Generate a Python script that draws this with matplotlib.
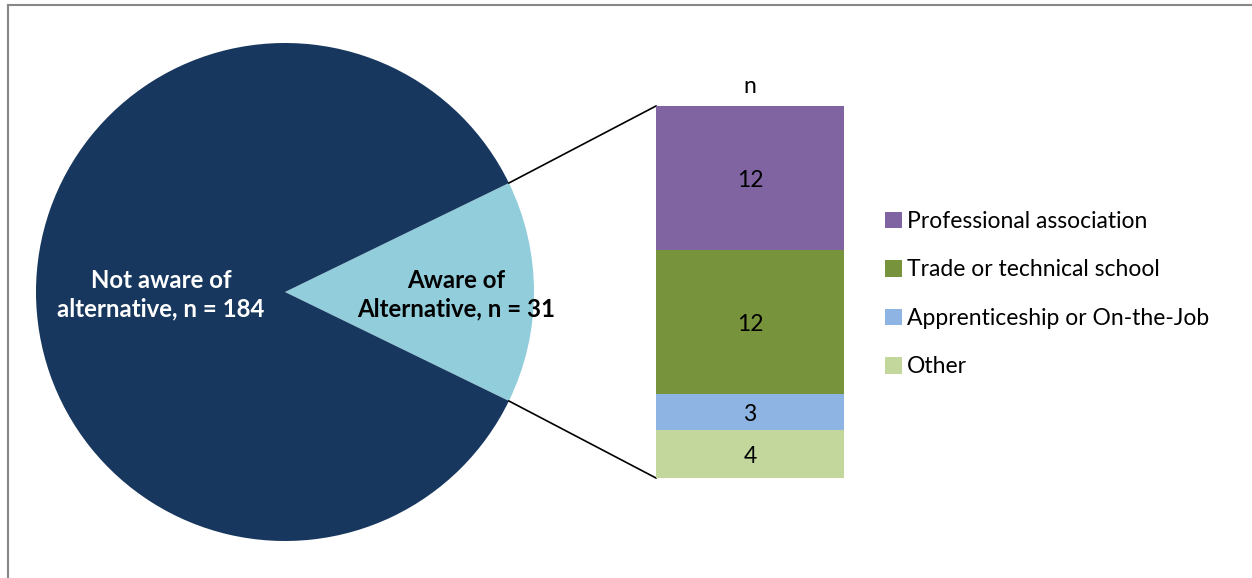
import matplotlib
matplotlib.use("Agg")
import matplotlib.pyplot as plt
import numpy as np

plt.rcParams['font.family'] = ['Lato', 'DejaVu Sans']

# Data
pie_labels = ["Aware of\nAlternative, n = 31", "Not aware of\nalternative, n = 184"]
pie_values = [31, 184]
pie_colors = ["#92CDDC", "#17375E"]

bar_categories = ["Other", "Apprenticeship or On-the-Job", "Trade or technical school", "Professional association"]
bar_values = [4, 3, 12, 12]
bar_colors = ["#C3D69B", "#8DB4E2", "#77933C", "#8064A2"]

W, H = 1252, 578
fig = plt.figure(figsize=(W / 100, H / 100), dpi=100)

# main axes in pixel coordinates
ax = fig.add_axes([0, 0, 1, 1])
ax.set_xlim(0, W)
ax.set_ylim(0, H)
ax.set_aspect('equal')
ax.axis('off')

cx, cy, r = 285, H - 292, 249
half = pie_values[0] / sum(pie_values) * 360 / 2
ax.pie(pie_values, colors=pie_colors, startangle=-half, counterclock=True,
       center=(cx, cy), radius=r, frame=True,
       wedgeprops=dict(linewidth=0))
ax.set_xlim(0, W)
ax.set_ylim(0, H)
ax.axis('off')

ax.text(456, H - 295, pie_labels[0], ha='center', va='center', fontsize=17.3,
        fontweight='bold', color='black', linespacing=1.3)
ax.text(161, H - 295, pie_labels[1], ha='center', va='center', fontsize=17.3,
        fontweight='bold', color='white', linespacing=1.3)

# stacked bar axes
bx0, bx1, by_top, by_bot = 656, 844, 106, 478
bax = fig.add_axes([bx0 / W, (H - by_bot) / H, (bx1 - bx0) / W, (by_bot - by_top) / H])
bottom = 0
handles = []
for cat, v, c in zip(bar_categories, bar_values, bar_colors):
    b = bax.bar(0, v, bottom=bottom, width=1.0, color=c, label=cat, linewidth=0)
    handles.append(b)
    bax.text(0, bottom + v / 2 - 0.2, str(v), ha='center', va='center', fontsize=16.5, color='black')
    bottom += v
bax.set_xlim(-0.5, 0.5)
bax.set_ylim(0, sum(bar_values))
bax.axis('off')
bax.text(0, sum(bar_values) + 0.75, "n", ha='center', va='bottom', fontsize=16.5, color='black')

# connector lines
ang = np.deg2rad(half)
p_up = (cx + r * np.cos(ang), cy + r * np.sin(ang))
p_dn = (cx + r * np.cos(ang), cy - r * np.sin(ang))
ax.plot([p_up[0], bx0], [p_up[1], H - by_top], color='black', lw=1.2)
ax.plot([p_dn[0], bx0], [p_dn[1], H - by_bot], color='black', lw=1.2)

# legend
leg = fig.legend(handles=handles[::-1], labels=bar_categories[::-1],
                 loc='upper left', bbox_to_anchor=(885 / W, 1 - 211 / H),
                 frameon=False, fontsize=16.5, handlelength=0.72, handleheight=0.72,
                 handletextpad=0.25, labelspacing=1.2, borderpad=0, borderaxespad=0)

# frame lines (left and top)
ax.plot([7.5, 7.5], [0, H - 4.5], color='#878787', lw=1.5)
ax.plot([7.5, W], [H - 4.5, H - 4.5], color='#878787', lw=1.5)

fig.savefig("out.png", dpi=100)
